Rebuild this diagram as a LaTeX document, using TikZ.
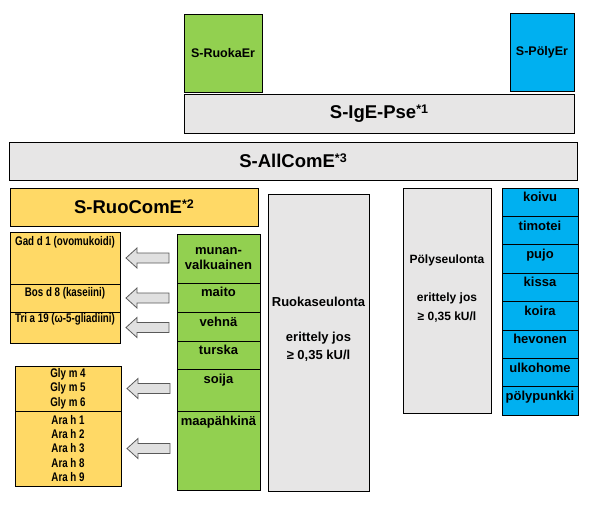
\documentclass[tikz,border=0pt]{standalone}
\usepackage{fontspec}
\setmainfont{Liberation Sans}
\newfontfamily\narrowsans[FakeStretch=0.78]{Liberation Sans}
\usetikzlibrary{calc,positioning}
\definecolor{ruokagreen}{RGB}{146,208,80}
\definecolor{polyblue}{RGB}{0,176,240}
\definecolor{comeyellow}{RGB}{255,217,102}
\definecolor{psegray}{RGB}{231,230,230}
\definecolor{arrgray}{RGB}{224,224,224}

\begin{document}
\begin{tikzpicture}[x=1pt,y=-1pt,font=\bfseries,
  box/.style={draw=black,line width=.8pt,inner sep=0pt,outer sep=0pt,anchor=north west,align=center},
  toplab/.style={anchor=north,inner sep=0pt,yshift=-3pt,align=center},
  bigtxt/.style={font=\fontsize{18.5}{21}\selectfont\bfseries},
  midtxt/.style={font=\fontsize{13}{15.5}\selectfont\bfseries},
  tabtxt/.style={font=\fontsize{12.5}{14.3}\selectfont\narrowsans\bfseries},
  blockarr/.style={draw=black!65,fill=arrgray,line width=.8pt}]
  \useasboundingbox (0,0) rectangle (589,512);

  % top: erittelyt ja paneelit
  \node[box,fill=ruokagreen,minimum width=78pt,minimum height=78pt,font=\fontsize{12.5}{15}\selectfont\bfseries] (ruokaer) at (184,14) {S-RuokaEr};
  \node[box,fill=polyblue,minimum width=64pt,minimum height=78pt,font=\fontsize{12.5}{15}\selectfont\bfseries] (polyer) at (510,13) {S-PölyEr};
  \node[box,fill=psegray,minimum width=390pt,minimum height=39pt,bigtxt] (igepse) at (184,94)
    {S-IgE-Pse{\fontsize{12.5}{12}\selectfont\raisebox{5pt}{*1}}};
  \node[box,fill=psegray,minimum width=568pt,minimum height=38pt,bigtxt] (allcome) at (9,142)
    {S-AllComE{\fontsize{12.5}{12}\selectfont\raisebox{5pt}{*3}}};
  \node[box,fill=comeyellow,minimum width=248pt,minimum height=38pt,bigtxt] (ruocome) at (10,188)
    {S-RuoComE{\fontsize{12.5}{12}\selectfont\raisebox{5pt}{*2}}};

  % komponentit
  \node[box,fill=comeyellow,minimum width=110pt,minimum height=52pt,
    label={[toplab,tabtxt,yshift=-1.5pt]north:Gad d 1 (ovomukoidi)}] (gad) at (10,232) {};
  \node[box,fill=comeyellow,minimum width=110pt,minimum height=28pt,below=0pt of gad,
    label={[toplab,tabtxt]north:Bos d 8 (kaseiini)}] (bos) {};
  \node[box,fill=comeyellow,minimum width=110pt,minimum height=31pt,below=0pt of bos,
    label={[toplab,tabtxt,yshift=2pt]north:Tri a 19 (ω-5-gliadiini)}] (tri) {};
  \node[box,fill=comeyellow,minimum width=106pt,minimum height=45pt,tabtxt] (gly) at (15,366)
    {Gly m 4\\Gly m 5\\Gly m 6};
  \node[box,fill=comeyellow,minimum width=106pt,minimum height=75pt,tabtxt,below=0pt of gly] (ara)
    {Ara h 1\\Ara h 2\\Ara h 3\\Ara h 8\\Ara h 9};

  % ruoat
  \node[box,fill=ruokagreen,minimum width=83pt,minimum height=49pt,midtxt] (munan) at (177,234)
    {munan-\\valkuainen};
  \node[box,fill=ruokagreen,minimum width=83pt,minimum height=29pt,below=0pt of munan,
    label={[toplab,midtxt,yshift=-1pt]north:maito}] (maito) {};
  \node[box,fill=ruokagreen,minimum width=83pt,minimum height=29pt,below=0pt of maito,
    label={[toplab,midtxt,yshift=-2pt]north:vehnä}] (vehna) {};
  \node[box,fill=ruokagreen,minimum width=83pt,minimum height=28pt,below=0pt of vehna,
    label={[toplab,midtxt,yshift=-1pt]north:turska}] (turska) {};
  \node[box,fill=ruokagreen,minimum width=83pt,minimum height=42pt,below=0pt of turska,
    label={[toplab,midtxt,yshift=-2pt]north:soija}] (soija) {};
  \node[box,fill=ruokagreen,minimum width=83pt,minimum height=79pt,below=0pt of soija,
    label={[toplab,midtxt,yshift=-2pt]north:maapähkinä}] (maapah) {};

  \foreach \r in {gad,bos,tri,gly,ara}
    \draw[blockarr] ($(\r.east)+(6,0)$) -- ++(11,-10) -- ++(0,5) -- ++(32,0)
      -- ++(0,10) -- ++(-32,0) -- ++(0,5) -- cycle;

  % seulonnat
  \node[box,fill=psegray,minimum width=101pt,minimum height=297pt] (ruokaseul) at (268,194) {};
  \node[font=\fontsize{13}{17.5}\selectfont\bfseries,align=center] (ruokatxt) at ($(ruokaseul.center)+(0,-13)$)
    {Ruokaseulonta\\[17.5pt]erittely jos\\≥ 0,35 kU/l};
  \node[box,fill=psegray,minimum width=88pt,minimum height=225pt] (polyseul) at (403,188) {};
  \node[font=\fontsize{12}{19.5}\selectfont\bfseries,align=center] (polytxt) at ($(polyseul.center)+(0,-12)$)
    {Pölyseulonta\\[18.5pt]erittely jos\\≥ 0,35 kU/l};

  % pölyt
  \foreach \txt [count=\i from 0] in {koivu,timotei,pujo,kissa,koira,hevonen,ulkohome,pölypunkki}
    \node[box,fill=polyblue,minimum width=76pt,minimum height=28.4pt,
      label={[toplab,midtxt,yshift=-1pt]north:\txt}] (poly\i) at (502,{188+28.4*\i}) {};
\end{tikzpicture}
\end{document}
